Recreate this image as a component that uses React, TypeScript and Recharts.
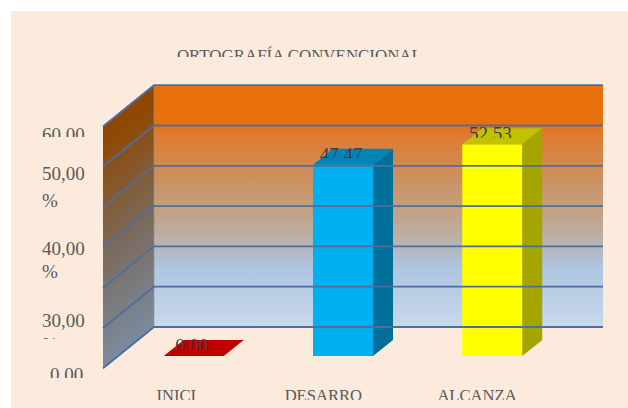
import React from "react";
import { ComposedChart, Bar, XAxis, YAxis, ReferenceArea, ReferenceLine, Cell } from "recharts";

const categories = ["INICIO", "DESARROLLO", "ALCANZA"];
const values = [0.0, 47.47, 52.53];
const valueLabels = ["0,00", "47,47", "52,53"];
const gridValues = [0, 10, 20, 30, 40, 50, 60];
const axisTicks = [0, 30, 40, 50, 60];
const title = "ORTOGRAFÍA CONVENCIONAL.";
const shownCategories = ["INICI", "DESARRO", "ALCANZA"];
const frontColors = ["#c00000", "#00b0f0", "#ffff00"];
const topColors = ["#c00000", "#0085b8", "#c2c200"];
const sideColors = ["#900000", "#00709a", "#a5a500"];

const FONT = "'Liberation Serif', serif";
const TEXT = "#595959";
const DX = 20;
const DY = -16;
const categoryLeftOffsets = [-37, -58, -54.5];

let clipCounter = 0;
function Clipped({ x, y, clipTop, clipBottom, size, fill, anchor, children }: any) {
  const id = `c${clipCounter++}`;
  return (
    <g>
      <clipPath id={id}>
        <rect x={0} y={clipTop} width={628} height={clipBottom - clipTop} />
      </clipPath>
      <text x={x} y={y} fontFamily={FONT} fontSize={size} fill={fill} textAnchor={anchor} clipPath={`url(#${id})`}>
        {children}
      </text>
    </g>
  );
}

const tickLayout: Record<number, any> = {
  60: { base: 141, pct: null, clip: 137, x: 42 },
  50: { base: 180, pct: 207, clip: 215, x: 42 },
  40: { base: 255, pct: 278, clip: 290, x: 42 },
  30: { base: 327, pct: 351, clip: 339, x: 42 },
  0: { base: 381, pct: null, clip: 378, x: 50 },
};

function YTick({ payload }: any) {
  const l = tickLayout[payload.value];
  const text = payload.value.toFixed(2).replace(".", ",");
  return (
    <g>
      <Clipped x={l.x} y={l.base} clipTop={l.base - 20} clipBottom={l.clip} size={19} fill={TEXT}>{text}</Clipped>
      {l.pct !== null && (
        <Clipped x={42} y={l.pct} clipTop={l.pct - 20} clipBottom={l.clip} size={19} fill={TEXT}>%</Clipped>
      )}
    </g>
  );
}

function XTick({ x, index }: any) {
  return (
    <Clipped x={x + categoryLeftOffsets[index]} y={400.5} clipTop={380} clipBottom={400} size={16.6} fill={TEXT} anchor="start">
      {shownCategories[index]}
    </Clipped>
  );
}

function Walls({ x, y, width, height }: any) {
  const bl = x + 35.25;
  const br = x + width + 36.5;
  const fl = x - 15.75;
  const bt = y - 29;
  const bb = y + height - 29;
  const ft = y + 12;
  const fb = y + height + 12.5;
  return (
    <g>
      <rect x={bl} y={bt} width={br - bl} height={bb - bt} fill="url(#backWall)" />
      <polygon points={`${fl},${ft} ${bl},${bt} ${bl},${bb} ${fl},${fb}`} fill="url(#sideWall)" />
      <line x1={bl} y1={bt} x2={bl} y2={bb} stroke="#8f8f8f" strokeOpacity={0.6} strokeWidth={1} />
    </g>
  );
}

function GridLine({ x1, x2, y1 }: any) {
  const bl = x1 + 35.25;
  const br = x2 + 36.5;
  const fl = x1 - 15.75;
  const by = y1 - 29;
  const fy = y1 + 12.3;
  return (
    <g fill="none" stroke="#4d6e9f" strokeWidth={1.8}>
      <polyline points={`${fl},${fy} ${bl},${by} ${br},${by}`} />
    </g>
  );
}

function Bar3D({ x, y, width, height, index }: any) {
  const t = topColors[index];
  const s = sideColors[index];
  const f = frontColors[index];
  const r = x + width;
  const b = y + height;
  return (
    <g>
      <rect x={x} y={y} width={width} height={height} fill={f} />
      <polygon points={`${x},${y} ${r},${y} ${r + DX},${y + DY} ${x + DX},${y + DY}`} fill={t} />
      <polygon points={`${r},${y} ${r + DX},${y + DY} ${r + DX},${b + DY} ${r},${b}`} fill={s} />
      <Clipped
        x={x + width / 2 - 2}
        y={y + DY + 12}
        clipTop={y + DY - 25}
        clipBottom={y + DY + 9.5}
        size={19}
        fill="#404040"
        anchor="middle"
      >
        {valueLabels[index]}
      </Clipped>
    </g>
  );
}

const data = categories.map((name, i) => ({ name, value: values[i] }));

export default function App() {
  return (
    <div style={{ position: "absolute", left: 0, top: 0, width: 628, height: 408, overflow: "hidden", background: "#fff" }}>
      <div style={{ position: "absolute", left: 11, top: 11, width: 617, height: 397, background: "#fcebdc" }} />
      <div style={{ position: "absolute", left: 0, top: 0 }}>
        <ComposedChart
          width={628}
          height={408}
          data={data}
          margin={{ left: 78.75, right: 61.5, top: 114.2, bottom: 22 }}
        >
          <defs>
            <linearGradient id="backWall" x1="0" y1="0" x2="0" y2="1">
              <stop offset="0" stopColor="#e8700a" />
              <stop offset="0.16" stopColor="#e6710e" />
              <stop offset="0.2" stopColor="#df7a2e" />
              <stop offset="0.33" stopColor="#d08a52" />
              <stop offset="0.47" stopColor="#c79a76" />
              <stop offset="0.62" stopColor="#bcaea2" />
              <stop offset="0.75" stopColor="#aec4e0" />
              <stop offset="1" stopColor="#c9d9ed" />
            </linearGradient>
            <linearGradient id="sideWall" x1="0" y1="0" x2="0.15" y2="1">
              <stop offset="0" stopColor="#8f4500" />
              <stop offset="0.2" stopColor="#8f4804" />
              <stop offset="0.6" stopColor="#7a6b5e" />
              <stop offset="1" stopColor="#7a8da3" />
            </linearGradient>
          </defs>
          <Clipped x={301.5} y={60.5} clipTop={30} clipBottom={57} size={16.9} fill={TEXT} anchor="middle">
            {title}
          </Clipped>
          <XAxis dataKey="name" height={30} axisLine={false} tickLine={false} interval={0} tick={<XTick />} />
          <YAxis width={40} domain={[0, 60]} ticks={axisTicks} axisLine={false} tickLine={false} interval={0} tick={<YTick />} />
          <ReferenceArea y1={0} y2={60} ifOverflow="visible" shape={<Walls />} />
          {gridValues.map((v) => (
            <ReferenceLine key={v} y={v} ifOverflow="visible" shape={<GridLine />} />
          ))}
          <Bar dataKey="value" barSize={60} isAnimationActive={false} shape={<Bar3D />}>
            {data.map((d) => (
              <Cell key={d.name} />
            ))}
          </Bar>
        </ComposedChart>
      </div>
    </div>
  );
}
